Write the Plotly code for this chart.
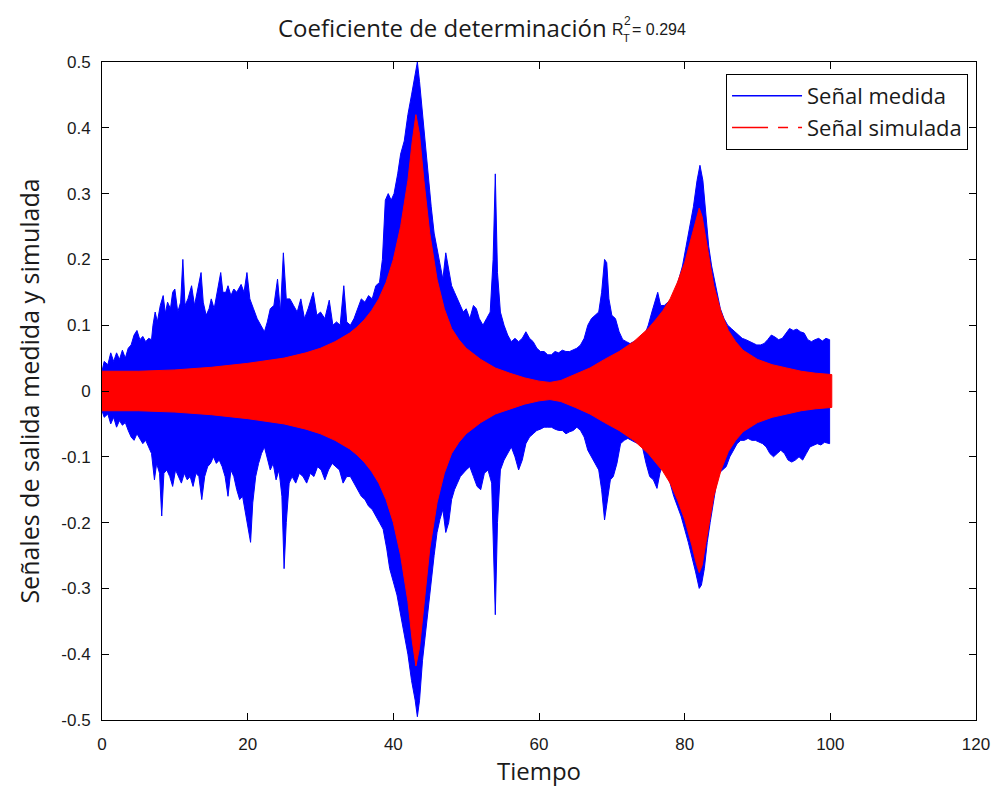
import plotly.graph_objects as go

# Envelopes (peak values) of the measured signal: (time, value)
medida_sup = [
    (0.0, 0.030), (0.3, 0.045), (0.8, 0.040), (1.2, 0.058), (1.6, 0.045), (2.0, 0.058),
    (2.4, 0.048), (2.8, 0.062), (3.2, 0.050), (3.6, 0.065), (4.0, 0.070), (4.4, 0.085),
    (4.8, 0.092), (5.2, 0.078), (5.6, 0.083), (6.0, 0.075), (6.4, 0.080), (6.8, 0.078),
    (7.0, 0.100), (7.3, 0.120), (7.6, 0.105), (8.0, 0.130), (8.4, 0.145), (8.7, 0.118),
    (9.0, 0.135), (9.4, 0.125), (9.7, 0.150), (10.0, 0.155), (10.4, 0.120), (10.8, 0.135),
    (11.1, 0.200), (11.4, 0.130), (11.8, 0.140), (12.3, 0.160), (12.7, 0.130), (13.0, 0.145),
    (13.6, 0.180), (13.9, 0.135), (14.3, 0.115), (14.7, 0.125), (15.0, 0.140), (15.4, 0.125),
    (15.8, 0.150), (16.3, 0.180), (16.6, 0.150), (17.0, 0.150), (17.3, 0.160), (17.7, 0.145),
    (18.1, 0.155), (18.5, 0.150), (19.1, 0.162), (19.5, 0.150), (19.9, 0.180), (20.3, 0.140),
    (20.8, 0.125), (21.3, 0.110), (21.8, 0.100), (22.3, 0.090), (22.7, 0.105), (23.1, 0.125),
    (23.6, 0.130), (24.1, 0.170), (24.5, 0.120), (24.9, 0.210), (25.3, 0.140), (25.8, 0.140),
    (26.3, 0.130), (26.8, 0.120), (27.3, 0.140), (27.8, 0.110), (28.3, 0.125), (29.0, 0.150),
    (29.5, 0.115), (30.0, 0.120), (30.6, 0.110), (31.2, 0.138), (31.7, 0.100), (32.2, 0.105),
    (32.7, 0.100), (33.2, 0.160), (33.6, 0.105), (34.1, 0.100), (34.6, 0.110), (35.1, 0.125),
    (35.6, 0.140), (36.1, 0.135), (36.6, 0.145), (37.1, 0.140), (37.6, 0.160), (38.1, 0.165),
    (38.5, 0.200), (38.9, 0.290), (39.3, 0.300), (39.7, 0.290), (40.1, 0.300), (40.6, 0.330),
    (41.0, 0.360), (41.5, 0.380), (42.0, 0.420), (42.5, 0.450), (43.0, 0.480), (43.3, 0.500),
    (43.6, 0.470), (44.0, 0.420), (44.4, 0.370), (44.8, 0.320), (45.2, 0.280), (45.6, 0.240),
    (46.0, 0.215), (46.4, 0.190), (46.8, 0.170), (47.2, 0.210), (47.6, 0.185), (48.0, 0.160),
    (48.4, 0.150), (48.8, 0.140), (49.2, 0.130), (49.6, 0.120), (50.0, 0.125), (50.5, 0.110),
    (51.0, 0.130), (51.4, 0.125), (51.8, 0.110), (52.3, 0.100), (52.8, 0.110), (53.3, 0.120),
    (53.7, 0.200), (54.0, 0.330), (54.3, 0.180), (54.7, 0.120), (55.2, 0.100), (55.7, 0.085),
    (56.2, 0.075), (56.7, 0.080), (57.2, 0.075), (57.7, 0.080), (58.2, 0.090), (58.7, 0.080),
    (59.2, 0.075), (59.7, 0.065), (60.2, 0.060), (60.7, 0.060), (61.2, 0.055), (61.7, 0.055),
    (62.2, 0.060), (62.7, 0.058), (63.2, 0.062), (63.7, 0.060), (64.2, 0.060), (64.7, 0.062),
    (65.2, 0.065), (65.7, 0.070), (66.2, 0.080), (66.7, 0.100), (67.2, 0.110), (67.7, 0.115),
    (68.2, 0.120), (68.6, 0.150), (69.0, 0.200), (69.3, 0.195), (69.6, 0.140), (70.0, 0.115),
    (70.5, 0.110), (71.0, 0.090), (71.5, 0.078), (72.0, 0.075), (72.5, 0.072), (73.0, 0.075),
    (73.5, 0.078), (74.0, 0.080), (74.5, 0.085), (75.0, 0.100), (75.5, 0.120), (76.0, 0.140),
    (76.3, 0.150), (76.7, 0.130), (77.2, 0.130), (77.7, 0.135), (78.2, 0.140), (78.7, 0.150),
    (79.2, 0.170), (79.7, 0.190), (80.2, 0.220), (80.7, 0.250), (81.2, 0.280), (81.7, 0.320),
    (82.1, 0.343), (82.5, 0.320), (82.9, 0.270), (83.3, 0.220), (83.7, 0.190), (84.1, 0.170),
    (84.5, 0.145), (84.9, 0.125), (85.4, 0.110), (85.9, 0.100), (86.4, 0.095), (86.9, 0.090),
    (87.4, 0.085), (87.9, 0.080), (88.4, 0.078), (88.9, 0.075), (89.4, 0.072), (89.9, 0.070),
    (90.4, 0.070), (90.9, 0.072), (91.4, 0.078), (91.9, 0.085), (92.4, 0.082), (92.9, 0.078),
    (93.4, 0.080), (93.9, 0.088), (94.4, 0.095), (94.9, 0.092), (95.4, 0.094), (95.9, 0.090),
    (96.4, 0.088), (96.9, 0.078), (97.4, 0.075), (97.9, 0.078), (98.4, 0.080), (98.9, 0.076),
    (99.4, 0.080), (99.9, 0.078),
]

medida_inf = [
    (0.0, -0.030), (0.3, -0.040), (0.8, -0.035), (1.2, -0.050), (1.6, -0.040), (2.0, -0.055),
    (2.4, -0.045), (2.8, -0.052), (3.2, -0.048), (3.6, -0.060), (4.0, -0.070), (4.4, -0.075),
    (4.8, -0.065), (5.2, -0.072), (5.6, -0.080), (6.0, -0.075), (6.4, -0.085), (6.8, -0.095),
    (7.2, -0.135), (7.5, -0.110), (7.9, -0.125), (8.2, -0.190), (8.5, -0.125), (8.9, -0.120),
    (9.3, -0.130), (9.7, -0.145), (10.1, -0.120), (10.5, -0.130), (10.9, -0.140), (11.3, -0.125),
    (11.7, -0.135), (12.1, -0.130), (12.5, -0.145), (12.9, -0.125), (13.3, -0.130), (13.7, -0.165),
    (14.1, -0.130), (14.5, -0.115), (14.9, -0.110), (15.3, -0.100), (15.7, -0.110), (16.1, -0.105),
    (16.5, -0.115), (16.9, -0.130), (17.3, -0.160), (17.7, -0.120), (18.1, -0.130), (18.5, -0.150),
    (18.9, -0.165), (19.3, -0.160), (19.7, -0.180), (20.1, -0.210), (20.4, -0.230), (20.7, -0.170),
    (21.1, -0.130), (21.5, -0.110), (21.9, -0.095), (22.3, -0.085), (22.7, -0.100), (23.1, -0.120),
    (23.5, -0.110), (23.9, -0.135), (24.3, -0.120), (24.7, -0.160), (25.0, -0.270), (25.3, -0.200),
    (25.7, -0.140), (26.1, -0.130), (26.6, -0.140), (27.1, -0.125), (27.6, -0.130), (28.1, -0.140),
    (28.6, -0.125), (29.1, -0.130), (29.6, -0.115), (30.1, -0.120), (30.6, -0.135), (31.1, -0.120),
    (31.6, -0.110), (32.1, -0.115), (32.6, -0.120), (33.1, -0.140), (33.6, -0.130), (34.1, -0.130),
    (34.6, -0.140), (35.1, -0.150), (35.6, -0.160), (36.1, -0.165), (36.6, -0.175), (37.1, -0.180),
    (37.6, -0.190), (38.1, -0.200), (38.6, -0.210), (39.1, -0.240), (39.5, -0.270), (40.0, -0.290),
    (40.5, -0.310), (41.0, -0.340), (41.5, -0.370), (42.0, -0.400), (42.5, -0.440), (43.0, -0.470),
    (43.3, -0.495), (43.6, -0.470), (44.0, -0.410), (44.4, -0.360), (44.8, -0.320), (45.2, -0.290),
    (45.6, -0.250), (46.0, -0.215), (46.4, -0.195), (46.8, -0.180), (47.2, -0.215), (47.6, -0.200),
    (48.0, -0.165), (48.4, -0.150), (48.8, -0.140), (49.2, -0.130), (49.6, -0.125), (50.0, -0.120),
    (50.5, -0.115), (51.0, -0.130), (51.5, -0.145), (52.0, -0.150), (52.5, -0.125), (53.0, -0.120),
    (53.5, -0.140), (53.8, -0.250), (54.0, -0.340), (54.3, -0.200), (54.7, -0.120), (55.2, -0.105),
    (55.7, -0.095), (56.2, -0.085), (56.7, -0.100), (57.2, -0.120), (57.7, -0.105), (58.2, -0.080),
    (58.7, -0.070), (59.2, -0.065), (59.7, -0.060), (60.2, -0.058), (60.7, -0.055), (61.2, -0.055),
    (61.7, -0.055), (62.2, -0.058), (62.7, -0.060), (63.2, -0.060), (63.7, -0.065), (64.2, -0.062),
    (64.7, -0.060), (65.2, -0.055), (65.7, -0.060), (66.2, -0.070), (66.7, -0.090), (67.2, -0.100),
    (67.7, -0.110), (68.2, -0.120), (68.6, -0.150), (69.0, -0.196), (69.4, -0.170), (69.8, -0.135),
    (70.2, -0.130), (70.7, -0.110), (71.2, -0.080), (71.7, -0.075), (72.2, -0.072), (72.7, -0.075),
    (73.2, -0.078), (73.7, -0.080), (74.2, -0.085), (74.7, -0.110), (75.2, -0.130), (75.7, -0.135),
    (76.2, -0.148), (76.6, -0.125), (77.0, -0.110), (77.5, -0.120), (78.0, -0.140), (78.5, -0.160),
    (79.0, -0.175), (79.5, -0.190), (80.0, -0.210), (80.5, -0.230), (81.0, -0.250), (81.5, -0.275),
    (82.0, -0.300), (82.3, -0.295), (82.7, -0.270), (83.1, -0.230), (83.5, -0.200), (83.9, -0.170),
    (84.3, -0.145), (84.7, -0.125), (85.2, -0.120), (85.7, -0.115), (86.2, -0.100), (86.7, -0.090),
    (87.2, -0.080), (87.7, -0.075), (88.2, -0.075), (88.7, -0.072), (89.2, -0.075), (89.7, -0.075),
    (90.2, -0.078), (90.7, -0.080), (91.2, -0.085), (91.7, -0.095), (92.2, -0.100), (92.7, -0.095),
    (93.2, -0.090), (93.7, -0.095), (94.2, -0.105), (94.7, -0.108), (95.2, -0.105), (95.7, -0.100),
    (96.2, -0.105), (96.7, -0.095), (97.2, -0.085), (97.7, -0.082), (98.2, -0.080), (98.7, -0.082),
    (99.2, -0.078), (99.9, -0.080),
]

# Envelopes of the simulated signal
simulada_sup = [
    (0.0, 0.030), (5.0, 0.030), (10.0, 0.032), (15.0, 0.036), (20.0, 0.042), (25.0, 0.050),
    (28.0, 0.058), (30.0, 0.065), (32.0, 0.075), (34.0, 0.088), (35.0, 0.097), (36.0, 0.108),
    (37.0, 0.122), (38.0, 0.140), (39.0, 0.165), (40.0, 0.200), (41.0, 0.250), (42.0, 0.320),
    (42.6, 0.380), (43.1, 0.420), (43.6, 0.390), (44.2, 0.320), (45.0, 0.240), (46.0, 0.170),
    (47.0, 0.125), (48.0, 0.095), (49.0, 0.078), (50.0, 0.065), (52.0, 0.048), (54.0, 0.035),
    (56.0, 0.027), (58.0, 0.020), (60.0, 0.015), (61.5, 0.013), (63.0, 0.016), (65.0, 0.025),
    (67.0, 0.035), (69.0, 0.048), (71.0, 0.060), (73.0, 0.075), (75.0, 0.095), (76.0, 0.108),
    (77.0, 0.122), (78.0, 0.140), (79.0, 0.165), (80.0, 0.195), (81.0, 0.235), (81.6, 0.262),
    (82.0, 0.278), (82.4, 0.265), (83.0, 0.225), (84.0, 0.160), (85.0, 0.120), (86.0, 0.092),
    (87.0, 0.075), (88.0, 0.062), (90.0, 0.048), (92.0, 0.040), (94.0, 0.035), (96.0, 0.030),
    (98.0, 0.027), (100.2, 0.025),
]

simulada_inf = [
    (0.0, -0.030), (5.0, -0.030), (10.0, -0.032), (15.0, -0.036), (20.0, -0.042), (25.0, -0.050),
    (28.0, -0.058), (30.0, -0.065), (32.0, -0.075), (34.0, -0.088), (35.0, -0.097), (36.0, -0.108),
    (37.0, -0.122), (38.0, -0.140), (39.0, -0.165), (40.0, -0.200), (41.0, -0.250), (42.0, -0.320),
    (42.6, -0.380), (43.1, -0.418), (43.6, -0.390), (44.2, -0.320), (45.0, -0.240), (46.0, -0.170),
    (47.0, -0.125), (48.0, -0.095), (49.0, -0.078), (50.0, -0.065), (52.0, -0.048), (54.0, -0.035),
    (56.0, -0.027), (58.0, -0.020), (60.0, -0.015), (61.5, -0.013), (63.0, -0.016), (65.0, -0.025),
    (67.0, -0.035), (69.0, -0.048), (71.0, -0.060), (73.0, -0.075), (75.0, -0.095), (76.0, -0.108),
    (77.0, -0.122), (78.0, -0.140), (79.0, -0.165), (80.0, -0.195), (81.0, -0.235), (81.6, -0.262),
    (82.0, -0.276), (82.4, -0.265), (83.0, -0.225), (84.0, -0.160), (85.0, -0.120), (86.0, -0.092),
    (87.0, -0.075), (88.0, -0.062), (90.0, -0.048), (92.0, -0.040), (94.0, -0.035), (96.0, -0.030),
    (98.0, -0.027), (100.2, -0.025),
]

x_ticks = [0, 20, 40, 60, 80, 100, 120]
y_ticks = [-0.5, -0.4, -0.3, -0.2, -0.1, 0, 0.1, 0.2, 0.3, 0.4, 0.5]
y_tick_labels = ["-0.5", "-0.4", "-0.3", "-0.2", "-0.1", "0", "0.1", "0.2", "0.3", "0.4", "0.5"]

AZUL = "#0000ff"
ROJO = "#ff0000"
TXT = "#1a1a1a"
FONT_TXT = "Open Sans"
FONT_NUM = "Liberation Sans"


def banda(sup, inf):
    """Closed outline: upper envelope left-to-right, lower envelope back."""
    xs = [p[0] for p in sup] + [p[0] for p in reversed(inf)]
    ys = [p[1] for p in sup] + [p[1] for p in reversed(inf)]
    return xs, ys


fig = go.Figure()

bx, by = banda(medida_sup, medida_inf)
fig.add_trace(go.Scatter(x=bx, y=by, mode="lines", fill="toself", fillcolor=AZUL,
                         line=dict(color=AZUL, width=1), showlegend=False, hoverinfo="skip"))
rx, ry = banda(simulada_sup, simulada_inf)
fig.add_trace(go.Scatter(x=rx, y=ry, mode="lines", fill="toself", fillcolor=ROJO,
                         line=dict(color=ROJO, width=1), showlegend=False, hoverinfo="skip"))

# legend entries
fig.add_trace(go.Scatter(x=[None], y=[None], mode="lines", name="Señal medida",
                         line=dict(color=AZUL, width=1.5)))
fig.add_trace(go.Scatter(x=[None], y=[None], mode="lines", name="Señal simulada",
                         line=dict(color=ROJO, width=1.5, dash="36px,10px,10px,10px")))

L, R, T, B = 102, 22, 62, 71
W, H = 1002, 791
pw, ph = W - L - R, H - T - B


def px_x(px):
    return (px - L) / pw


def px_y(py):
    return (H - B - py) / ph


axis_common = dict(showline=True, linecolor="black", linewidth=1, mirror="ticks",
                   ticks="inside", ticklen=7, tickcolor="black", tickwidth=1,
                   showgrid=False, zeroline=False)

fig.update_layout(
    width=W, height=H,
    margin=dict(l=L, r=R, t=T, b=B),
    paper_bgcolor="white", plot_bgcolor="white",
    xaxis=dict(range=[0, 120], tickvals=x_ticks, ticktext=[str(v) for v in x_ticks],
               tickfont=dict(family=FONT_NUM, size=17, color=TXT),
               ticklabelstandoff=9,
               title=dict(text="Tiempo", font=dict(family=FONT_TXT, size=24, color=TXT),
                          standoff=3),
               **axis_common),
    yaxis=dict(range=[-0.5, 0.5], tickvals=y_ticks, ticktext=y_tick_labels,
               tickfont=dict(family=FONT_NUM, size=17, color=TXT),
               ticklabelstandoff=7,
               title=dict(text="Señales de salida medida y simulada",
                          font=dict(family=FONT_TXT, size=25, color=TXT), standoff=14),
               **axis_common),
    legend=dict(x=px_x(972), y=px_y(74), xanchor="right", yanchor="top",
                bgcolor="white", bordercolor="black", borderwidth=1,
                font=dict(family=FONT_TXT, size=22, color=TXT),
                itemwidth=70, tracegroupgap=0),
    showlegend=True,
)

# title: main text plus stacked sub/superscript on R
fig.add_annotation(x=px_x(611), y=px_y(28), xref="paper", yref="paper", xanchor="right",
                   yanchor="middle", text="Coeficiente de determinación", showarrow=False,
                   font=dict(family=FONT_TXT, size=24, color=TXT))
fig.add_annotation(x=px_x(612), y=px_y(30), xref="paper", yref="paper", xanchor="left",
                   yanchor="middle", text="R", showarrow=False,
                   font=dict(family=FONT_NUM, size=16, color=TXT))
fig.add_annotation(x=px_x(624), y=px_y(21), xref="paper", yref="paper", xanchor="left",
                   yanchor="middle", text="2", showarrow=False,
                   font=dict(family=FONT_NUM, size=12, color=TXT))
fig.add_annotation(x=px_x(623), y=px_y(38), xref="paper", yref="paper", xanchor="left",
                   yanchor="middle", text="T", showarrow=False,
                   font=dict(family=FONT_NUM, size=11, color=TXT))
fig.add_annotation(x=px_x(632), y=px_y(30), xref="paper", yref="paper", xanchor="left",
                   yanchor="middle", text="= 0.294", showarrow=False,
                   font=dict(family=FONT_NUM, size=16, color=TXT))

fig.write_html("out.html")
